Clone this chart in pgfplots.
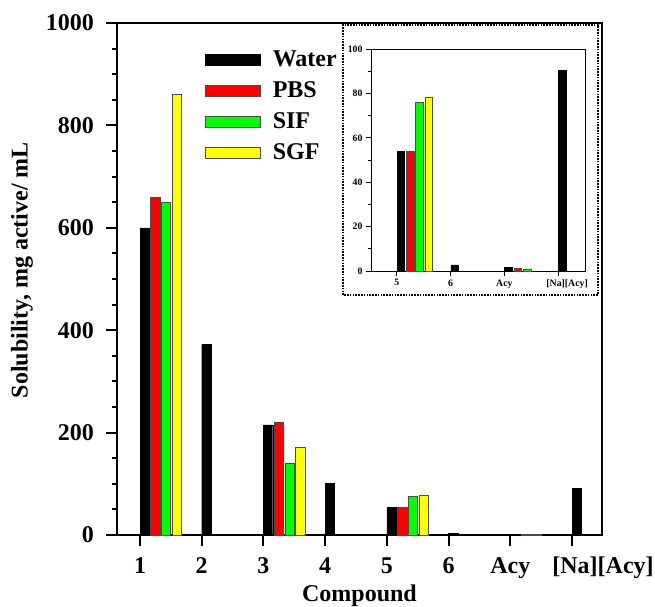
\documentclass[border=0pt]{standalone}
\usepackage{fontspec}
\setmainfont{Liberation Serif}
\usepackage{pgfplots}
\pgfplotsset{compat=1.18}

\definecolor{cred}{RGB}{255,0,0}
\definecolor{cgreen}{RGB}{0,255,0}
\definecolor{cyel}{RGB}{255,255,0}

\newcommand{\bigb}{\fontsize{24}{28}\selectfont\bfseries}
\newcommand{\tinyb}{\fontsize{9.8}{11}\selectfont\bfseries}

% x = category + offset (water .075, PBS .248, SIF .421, SGF .594)
\pgfplotstableread{
x y
1.075 600
2.075 372
3.075 215
4.075 101
5.075 54
6.075 2.8
7.075 1.5
8.075 90.5
}\water
\pgfplotstableread{
x y
1.248 660
3.248 221
5.248 54
7.248 1.2
}\pbs
\pgfplotstableread{
x y
1.421 650
3.421 141
5.421 76
7.421 0.9
}\sif
\pgfplotstableread{
x y
1.594 860
3.594 171
5.594 78.5
}\sgf

\begin{document}
\begin{tikzpicture}
\begin{axis}[
    at={(0pt,0pt)}, anchor=south west,
    scale only axis, width=485pt, height=512pt,
    xmin=0.627, xmax=8.486, ymin=0, ymax=1000,
    xtick={1,2,3,4,5,6,7,8},
    xticklabels={1,2,3,4,5,6,Acy,{\hspace*{62pt}[Na][Acy]}},
    ytick={0,200,400,600,800,1000},
    minor y tick num=3,
    tick pos=left, tick align=outside,
    major tick length=11pt, minor tick length=5pt,
    axis line style={line width=2.5pt},
    every tick/.style={black, line width=2pt},
    /pgf/number format/assume math mode=true,
    /pgf/number format/1000 sep={},
    ticklabel style={font=\bigb, inner sep=0pt},
    xticklabel style={text height=16pt, text depth=5pt},
    xticklabel shift=11pt,
    yticklabel shift=12pt,
    xlabel={Compound},
    xlabel style={font=\bigb, at={(axis description cs:0.5,0)}, anchor=base, yshift=-66pt},
    ylabel={Solubility, mg active/ mL},
    ylabel style={font=\bigb, at={(axis description cs:-0.196,0.517)}, anchor=center},
    legend style={at={(0.181,0.949)}, anchor=north west, draw=none, fill=none,
        inner sep=0pt, font=\bigb, row sep=9pt,
        nodes={inner sep=1pt, text height=16pt, text depth=4pt},
        /tikz/every odd column/.append style={column sep=11pt}},
    legend cell align=left,
    legend image code/.code={\draw[#1, line width=0.8pt] (0pt,-5.5pt) rectangle (55pt,5.5pt);},
]
\addplot[ybar, bar shift=0pt, bar width=0.15, fill=black, draw=black] table {\water};
\addplot[ybar, bar shift=0pt, bar width=0.15, fill=cred, draw=black!70] table {\pbs};
\addplot[ybar, bar shift=0pt, bar width=0.15, fill=cgreen, draw=black!70] table {\sif};
\addplot[ybar, bar shift=0pt, bar width=0.15, fill=cyel, draw=black!70] table {\sgf};
\legend{Water, PBS, SIF, SGF}
\end{axis}

\draw[fill=white, line width=2pt, dash pattern=on 1.6pt off 1.2pt] (226pt,240pt) rectangle (481pt,510pt);

\begin{axis}[
    at={(254pt,264pt)}, anchor=south west,
    scale only axis, width=214pt, height=222pt,
    xmin=4.52, xmax=8.5, ymin=0, ymax=100,
    xtick={5,6,7,8},
    xticklabels={5,6,Acy,{\hspace*{18pt}[Na][Acy]}},
    ytick={0,20,40,60,80,100},
    minor y tick num=1,
    tick pos=left, tick align=outside,
    major tick length=5pt, minor tick length=3pt,
    axis line style={line width=0.9pt},
    every tick/.style={black, line width=0.8pt},
    /pgf/number format/assume math mode=true,
    ticklabel style={font=\tinyb},
    axis background/.style={fill=white},
]
\addplot[ybar, bar shift=0pt, bar width=0.14, fill=black, draw=black] table {\water};
\addplot[ybar, bar shift=0pt, bar width=0.14, fill=cred, draw=black!70] table {\pbs};
\addplot[ybar, bar shift=0pt, bar width=0.14, fill=cgreen, draw=black!70] table {\sif};
\addplot[ybar, bar shift=0pt, bar width=0.14, fill=cyel, draw=black!70] table {\sgf};
\end{axis}

\pgfresetboundingbox
\path (-117pt,-71pt) rectangle (538pt,535pt);
\end{tikzpicture}
\end{document}
